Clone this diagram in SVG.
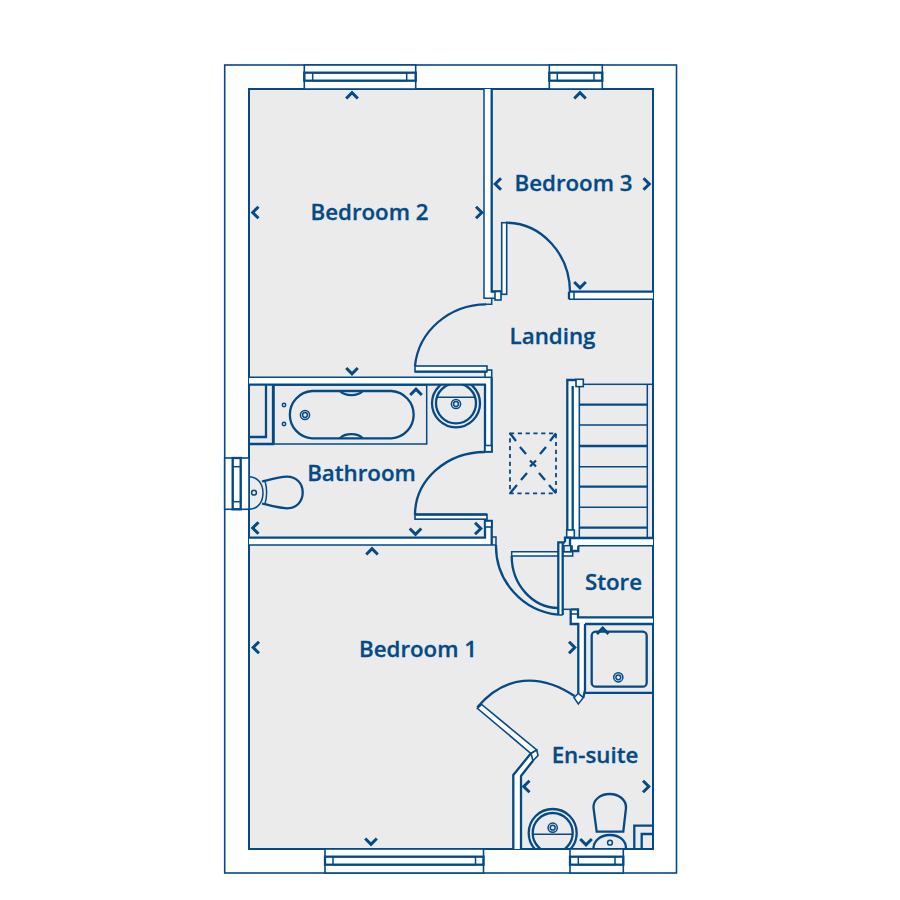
<svg xmlns="http://www.w3.org/2000/svg" width="900" height="900" viewBox="0 0 900 900">
<style>
.k{fill:none;stroke:#034a86;stroke-width:2.3;stroke-linejoin:miter}
.t{fill:none;stroke:#034a86;stroke-width:1.5}
.w{fill:#fff;stroke:#034a86;stroke-width:1.6}
.b{fill:#fff;stroke:none}
.g{fill:#ebebeb;stroke:#034a86;stroke-width:1.4}
.c{fill:none;stroke:#034a86;stroke-width:3}
.l{font-family:"Open Sans","Noto Sans",sans-serif;font-weight:600;font-size:22.3px;fill:#034a86;stroke:#034a86;stroke-width:0.3;text-anchor:middle}
</style>
<defs>
<path id="up" class="c" d="M-5.8,3 L0,-2.8 L5.8,3"/>
<path id="dn" class="c" d="M-5.8,-3 L0,2.8 L5.8,-3"/>
<path id="lf" class="c" d="M3,-5.8 L-2.8,0 L3,5.8"/>
<path id="rt" class="c" d="M-3,-5.8 L2.8,0 L-3,5.8"/>
<clipPath id="cr"><rect x="249" y="385" width="404" height="464"/></clipPath>
</defs>
<rect x="224.7" y="65" width="451.8" height="808" class="w"/>
<rect x="249" y="89" width="404" height="760" fill="#ebebeb" stroke="#034a86" stroke-width="2"/>

<!-- windows -->
<g>
<rect x="304.3" y="65" width="111.4" height="24" class="w"/><rect x="304.3" y="72.7" width="111.4" height="8" class="k"/><rect x="312.7" y="72.7" width="94" height="8" class="t"/>
<rect x="549.3" y="65" width="53" height="24" class="w"/><rect x="549.3" y="72.7" width="53" height="8" class="k"/><rect x="557.3" y="72.7" width="36.7" height="8" class="t"/>
<rect x="325" y="849" width="158.5" height="24" class="w"/><rect x="325" y="856.7" width="158.5" height="8" class="k"/><rect x="333" y="856.7" width="142.5" height="8" class="t"/>
<rect x="570" y="849" width="53.3" height="24" class="w"/><rect x="570" y="856.7" width="53.3" height="8" class="k"/><rect x="578.3" y="856.7" width="36.7" height="8" class="t"/>
<rect x="224.7" y="458" width="24.3" height="51.3" class="w"/><rect x="232.7" y="458" width="8" height="51.3" class="k"/><rect x="232.7" y="466.7" width="8" height="35" class="t"/>
</g>

<!-- walls -->
<g>
<path class="b" d="M484,89 H491.7 V298.3 H484 Z"/>
<path class="t" d="M484,89 V298.3 H500"/>
<path class="k" d="M491.7,89 V291.5 H501.7"/>
<path class="t" d="M491.7,298.3 V304.3 H485"/>
<rect x="501.7" y="222.7" width="5" height="71.6" class="w"/>
<rect x="495" y="291.5" width="6" height="8.5" class="w"/>
<path class="b" d="M569,291.7 H653 V299.3 H569 Z"/>
<path class="k" d="M569,291.7 H653 M569,291.7 V299.3"/>
<path class="t" d="M569,299.3 H653 M574,291.7 V299.3"/>

<path class="b" d="M249,377.3 H491.7 V451.7 H485 V384.7 H249 Z"/>
<path class="t" d="M249,377.3 H491.7"/>
<path class="k" d="M249,384.7 H485 V451.7 H491.7 V377.3"/>
<rect x="485" y="370" width="6.7" height="7.3" class="w"/>
<rect x="485" y="445.5" width="6.7" height="6.2" class="w"/>
<rect x="415" y="366" width="72" height="5.7" class="w"/>
<path class="k" d="M415,371.7 H487"/>

<path class="b" d="M249,537.7 H485 V521 H491.7 V545 H249 Z"/>
<path class="k" d="M249,537.7 H485 V521 H491.7 V545"/>
<path class="t" d="M249,545 H496 V537 H491.7"/>
<rect x="485" y="521" width="6.7" height="6" class="w"/>
<rect x="415" y="514.5" width="72" height="4.7" class="w"/>
<path class="k" d="M415,514.5 H487"/>

<!-- stairs -->
<rect x="579.3" y="384.3" width="73.7" height="153.4" class="t"/>
<path class="t" d="M647.3,384.3 V537.7 M579.3,425 H647.3 M579.3,466.7 H647.3 M579.3,507.3 H647.3"/>
<path class="k" d="M579.3,404.7 H647.3 M579.3,446 H647.3 M579.3,486.7 H647.3 M579.3,527.7 H647.3"/>
<path class="b" d="M567.3,380 H579.3 V530 H567.3 Z"/>
<path class="k" d="M576,380 H567.3 V530 M572.7,386 V530"/>
<path class="t" d="M579.3,386 V530"/>
<rect x="576" y="379.3" width="7.3" height="7.3" class="w"/>
<rect x="566.7" y="530" width="7.6" height="7.5" class="w" stroke-width="2.2"/>

<!-- store junction -->
<path class="b" d="M570,538 H653 V545.5 H578.3 V551 H571.7 V546 H570 Z"/>
<path class="k" d="M570,538 H653"/>
<path class="t" d="M578.3,545.7 H653"/>
<path class="k" d="M565,542.3 V537.7 H570 V546.5 H571.7 V551 H578.3 V545.7" stroke-width="2"/>
<path class="b" d="M511.7,551.7 H572.7 V556 H511.7 Z"/>
<path class="t" d="M572.7,551 V556 H511.7 V551.7 H572.7"/>
<rect x="564" y="545.7" width="6.7" height="6" class="g"/>
<path class="b" d="M558.3,542.3 H562.7 V615 H558.3 Z"/>
<path class="k" d="M565,542.3 H558.3 V615 M562.7,542.3 V615"/>
<path class="t" d="M558.3,615 H562.7"/>

<path class="b" d="M570.7,609.3 H578 V617.3 H653 V624 H585 V690 L583.3,697.7 L578.3,693.3 V624 H570.7 Z"/>
<path class="t" d="M562.7,609.3 H570.7"/>
<path class="k" d="M570.7,609.3 H578 V617.3 H653 M570.7,609.3 V624 H578.3 V693.3 M585,624 H653 M585,624 V690 L583.3,697.7"/>
<path class="t" d="M570.7,614 H578"/>
<path class="k" d="M585,692.8 H653"/>

<!-- en-suite wall and door -->
<path class="b" d="M531,753.3 L513.3,775 V849 H521 V776 L533,760.7 Z"/>
<path class="k" d="M531,753.3 L513.3,775 V849 M521,849 V776 L533,760.7"/>
<path class="w" d="M477.3,708.3 L481.7,704.5 L536.7,750 L531,753.5 Z" stroke-width="2"/>
<path class="w" d="M531,753.5 L536.7,750 L538,755.5 L533,760.7 Z"/>
<path class="w" d="M574,697.7 L578.3,693.3 L583.3,697.7 L578.3,704 Z" stroke-width="2"/>

<!-- door swings -->
<path class="k" d="M415,366 A72,68 0 0 1 486,304.3"/>
<path class="k" d="M415,515 A70,63 0 0 1 485,452"/>
<path class="k" d="M506,222.7 A64,70 0 0 1 570,292"/>
<path class="k" d="M496,545 A69,69 0 0 0 558.3,614.7"/>
<path class="k" d="M511.7,556 A47,52 0 0 0 558.3,608"/>
<path class="k" d="M477.3,707.3 C505,675 540,673 574.5,696"/>
</g>

<!-- fittings -->
<g>
<rect x="274" y="385" width="152.7" height="59" class="t"/>
<path class="k" d="M312,391 H391.5 A23.7,23.7 0 0 1 391.5,438.3 H312 A23.7,23.7 0 0 1 312,391 Z"/>
<path class="k" d="M340,391 A13,8 0 0 0 362.7,391 M340,438.3 A13,8 0 0 1 362.7,438.3" stroke-width="1.8"/>
<circle cx="305" cy="415" r="4.6" class="t"/><circle cx="305" cy="415" r="2.4" class="t"/>
<circle cx="284" cy="405" r="1.7" class="t"/><circle cx="284" cy="424" r="1.7" class="t"/>
<path class="k" d="M266,385 V437 H249 M273,385 V444 H249" stroke-width="2"/>
<g clip-path="url(#cr)">
<circle cx="456" cy="403.3" r="24" class="k"/><circle cx="456" cy="403.3" r="20" class="k"/>
<path class="t" d="M436.5,397.3 H475.5"/>
<circle cx="456" cy="404" r="4.6" class="t"/><circle cx="456" cy="404" r="2.4" class="t"/>
<circle cx="552.7" cy="833" r="24" class="k"/><circle cx="552.7" cy="833" r="20" class="k"/>
<path class="t" d="M533,834.3 H572.5"/>
<circle cx="552.7" cy="827.7" r="4.6" class="t"/><circle cx="552.7" cy="827.7" r="2.4" class="t"/>
</g>
<path class="t" d="M249,476.7 C258,477 263,484 263,493 C263,502 258,509 249,509.3"/>
<path class="k" d="M262,481.5 C272,479 280,476.7 287,476.7 C296,476.7 302.7,483 302.7,492.5 C302.7,502 296,508.3 287,508.3 C280,508.3 272,506 262,503.5"/>
<path class="t" d="M265,481 C267,488 267,497 265,504"/>
<circle cx="254" cy="492.7" r="2.4" class="t"/>
<rect x="591.7" y="631.7" width="55" height="55" rx="4" class="k"/>
<circle cx="618.3" cy="677.3" r="4.6" class="t"/><circle cx="618.3" cy="677.3" r="2.4" class="t"/>
<path class="k" d="M596.7,831.7 L593.5,808 C593,800 600,794 609.7,794 C619,794 626.5,800 626,808 L623.3,831.7 Z"/>
<path class="k" d="M593.3,848.5 C594,841 600,835 610,835 C620,835 626,841 626,848.5"/>
<circle cx="610" cy="842.7" r="2.4" class="t"/>
<path class="k" d="M634.3,849 V825.7 H653 M641.7,849 V834 H653" stroke-width="1.8"/>
<rect x="510" y="433.3" width="46" height="60" fill="none" stroke="#034a86" stroke-width="1.8" stroke-dasharray="4.2 3.6"/>
<path class="k" d="M510,433.3 L516,441 M520,447 L526,454 M530,460.5 L536,466.5 M556,433.3 L550,441 M546,447 L540,454 M536,460.5 L530,466.5 M510,493.3 L517,485 M521,480 L527,473 M556,493.3 L549,485 M545,480 L539,473" stroke-width="1.9"/>
</g>

<!-- chevrons -->
<g>
<use href="#up" x="352" y="95.5"/><use href="#up" x="580" y="95.5"/><use href="#up" x="416" y="392"/><use href="#up" x="372" y="551.5"/><use href="#up" x="602.7" y="631"/>
<use href="#dn" x="580" y="285"/><use href="#dn" x="352" y="371"/><use href="#dn" x="415.5" y="531.5"/><use href="#dn" x="371" y="841.5"/><use href="#dn" x="586" y="842"/>
<use href="#lf" x="255.5" y="212.5"/><use href="#lf" x="498" y="184"/><use href="#lf" x="255.5" y="528"/><use href="#lf" x="256" y="647.5"/><use href="#lf" x="526.5" y="786.5"/>
<use href="#rt" x="479" y="212.5"/><use href="#rt" x="646.5" y="184"/><use href="#rt" x="478" y="528.5"/><use href="#rt" x="572" y="647.5"/><use href="#rt" x="646" y="786.5"/>
</g>

<!-- labels -->
<g>
<text class="l" x="369.5" y="220">Bedroom 2</text>
<text class="l" x="573.5" y="191">Bedroom 3</text>
<text class="l" x="552.5" y="343.5">Landing</text>
<text class="l" x="361.5" y="481">Bathroom</text>
<text class="l" x="613.5" y="590">Store</text>
<text class="l" x="418" y="656.5">Bedroom 1</text>
<text class="l" x="595" y="763">En-suite</text>
</g>
</svg>
